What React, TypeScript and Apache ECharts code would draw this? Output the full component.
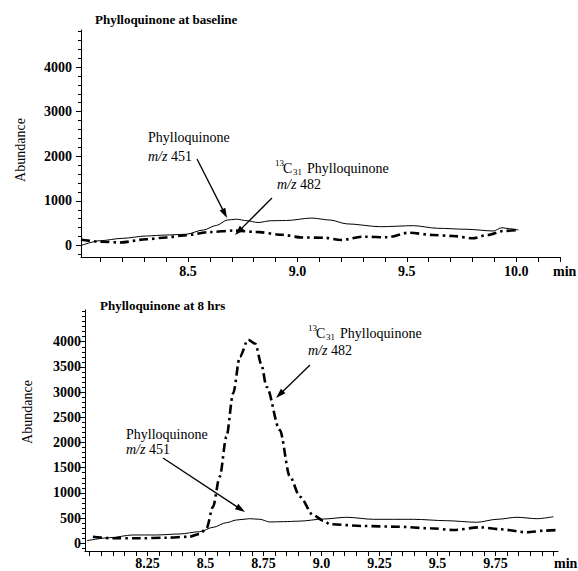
import React, { useEffect, useRef } from "react";
import * as echarts from "echarts";

// ---------- Data: top panel (Phylloquinone at baseline) ----------
const topTime451 = [8.011, 8.1, 8.2, 8.31, 8.4, 8.49, 8.57, 8.63, 8.68, 8.72, 8.77, 8.82, 8.88, 8.95, 9.066, 9.15, 9.226, 9.38, 9.53, 9.64, 9.775, 9.895, 9.935, 9.97, 10.01];
const topAbund451 = [0, 108, 160, 213, 235, 251, 347, 450, 570, 590, 555, 515, 555, 560, 615, 570, 485, 421, 444, 386, 363, 325, 399, 375, 350];
const topTime482 = [8.011, 8.1, 8.19, 8.31, 8.4, 8.48, 8.6, 8.71, 8.81, 8.93, 9.02, 9.12, 9.2, 9.3, 9.41, 9.51, 9.62, 9.71, 9.8, 9.87, 9.94, 10.01];
const topAbund482 = [130, 85, 68, 140, 180, 225, 300, 335, 305, 240, 180, 175, 123, 197, 184, 287, 235, 213, 161, 235, 325, 348];

// ---------- Data: bottom panel (Phylloquinone at 8 hrs) ----------
const botTime451 = [7.988, 8.086, 8.187, 8.288, 8.388, 8.475, 8.532, 8.59, 8.633, 8.69, 8.734, 8.777, 8.835, 8.907, 9.008, 9.109, 9.224, 9.397, 9.54, 9.67, 9.757, 9.843, 9.93, 10.0];
const botAbund451 = [52, 111, 165, 165, 185, 230, 317, 409, 462, 488, 476, 423, 429, 440, 482, 516, 476, 476, 448, 417, 476, 516, 488, 528];
const botTime482 = [8.014, 8.1, 8.216, 8.33, 8.43, 8.475, 8.504, 8.532, 8.561, 8.59, 8.619, 8.648, 8.683, 8.715, 8.74, 8.763, 8.82, 8.864, 8.907, 8.964, 9.008, 9.037, 9.18, 9.325, 9.47, 9.57, 9.685, 9.77, 9.886, 9.958, 10.02];
const botAbund482 = [131, 99, 99, 111, 131, 185, 298, 726, 1321, 2115, 2976, 3702, 4040, 3960, 3560, 3107, 2250, 1321, 925, 561, 448, 377, 343, 329, 298, 264, 317, 278, 218, 250, 264];

// ---------- Axis tick labels ----------
const topXLabelValues = [8.5, 9.0, 9.5, 10.0];
const topXLabels = ["8.5", "9.0", "9.5", "10.0"];
const topYLabelValues = [0, 1000, 2000, 3000, 4000];
const topYLabels = ["0", "1000", "2000", "3000", "4000"];
const botXLabelValues = [8.25, 8.5, 8.75, 9.0, 9.25, 9.5, 9.75];
const botXLabels = ["8.25", "8.5", "8.75", "9.0", "9.25", "9.5", "9.75"];
const botYLabelValues = [0, 500, 1000, 1500, 2000, 2500, 3000, 3500, 4000];
const botYLabels = ["0", "500", "1000", "1500", "2000", "2500", "3000", "3500", "4000"];

function steps(start: number, end: number, step: number): number[] {
  const out: number[] = [];
  const n = Math.round((end - start) / step);
  for (let i = 0; i <= n; i++) out.push(Math.round((start + i * step) * 1000) / 1000);
  return out;
}
const topXTicks = steps(8.1, 10.2, 0.1);
const topYMinorTicks = steps(-200, 4800, 200);
const botXTicks = steps(8.0, 10.0, 0.05);
const botYMinorTicks = steps(-100, 4600, 100);

const SERIF = '"Liberation Serif", "Times New Roman", serif';

function zip(xs: number[], ys: number[]) {
  return xs.map((x, i) => [x, ys[i]]);
}

function labelFor(values: number[], labels: string[]) {
  return (v: number) => {
    const i = values.findIndex((x) => Math.abs(x - v) < 1e-6);
    return i >= 0 ? labels[i] : "";
  };
}

function arrow(x1: number, y1: number, x2: number, y2: number) {
  const dx = x2 - x1;
  const dy = y2 - y1;
  const len = Math.sqrt(dx * dx + dy * dy);
  const ux = dx / len;
  const uy = dy / len;
  const L = 10;
  const W = 3.2;
  const bx = x2 - ux * L;
  const by = y2 - uy * L;
  return [
    {
      type: "line",
      shape: { x1, y1, x2: bx + ux * 2, y2: by + uy * 2 },
      style: { stroke: "#000", lineWidth: 1.3 },
    },
    {
      type: "polygon",
      shape: {
        points: [
          [x2, y2],
          [bx - uy * W, by + ux * W],
          [bx + uy * W, by - ux * W],
        ],
      },
      style: { fill: "#000" },
    },
  ];
}

function txt(text: string, x: number, y: number, size: number, extra: any = {}) {
  return {
    type: "text",
    x,
    y,
    style: {
      text,
      fontFamily: SERIF,
      fontSize: size,
      fill: "#000",
      textAlign: "left",
      textVerticalAlign: "middle",
      ...extra,
    },
  };
}

function mzText(num: string, x: number, y: number) {
  return {
    type: "text",
    x,
    y,
    style: {
      text: "{i|m/z} " + num,
      fontFamily: SERIF,
      fontSize: 14,
      fill: "#000",
      textAlign: "left",
      textVerticalAlign: "middle",
      rich: { i: { fontStyle: "italic", fontFamily: SERIF, fontSize: 14, fill: "#000" } },
    },
  };
}

function c13Label(x: number, y: number) {
  return [
    txt("13", x, y - 5, 9),
    txt("C", x + 8, y, 14),
    txt("31", x + 18, y + 4, 9),
    txt("Phylloquinone", x + 32, y, 14),
  ];
}

export default function App() {
  const ref = useRef<HTMLDivElement>(null);

  useEffect(() => {
    if (!ref.current) return;
    const chart = echarts.init(ref.current, undefined, { renderer: "svg" });

    const tickLabelStyle = {
      color: "#000",
      fontFamily: SERIF,
      fontSize: 14,
      fontWeight: "bold" as const,
    };

    const xAxisBase = (gridIndex: number, min: number, max: number, ticks: number[], lv: number[], ll: string[], margin: number) => ({
      type: "value",
      gridIndex,
      min,
      max,
      axisLine: { show: true, onZero: false, lineStyle: { color: "#000", width: 1 } },
      axisTick: { show: true, customValues: ticks, length: 5, lineStyle: { color: "#000", width: 1 } },
      axisLabel: { show: true, customValues: lv, formatter: labelFor(lv, ll), margin, ...tickLabelStyle },
      splitLine: { show: false },
    });

    const yMajor = (gridIndex: number, min: number, max: number, lv: number[], ll: string[], margin: number) => ({
      type: "value",
      gridIndex,
      position: "left",
      min,
      max,
      axisLine: { show: true, onZero: false, lineStyle: { color: "#000", width: 1 } },
      axisTick: { show: true, customValues: lv, length: 5, lineStyle: { color: "#000", width: 1 } },
      axisLabel: { show: true, customValues: lv, formatter: labelFor(lv, ll), margin, ...tickLabelStyle },
      splitLine: { show: false },
    });

    const yMinor = (gridIndex: number, min: number, max: number, ticks: number[]) => ({
      type: "value",
      gridIndex,
      position: "left",
      min,
      max,
      axisLine: { show: false, onZero: false },
      axisTick: { show: true, customValues: ticks, length: 3, lineStyle: { color: "#000", width: 1 } },
      axisLabel: { show: false },
      splitLine: { show: false },
    });

    const solid = { color: "#000", width: 1 };
    const dashDot = { color: "#000", width: 2.6, type: [9, 4, 2.5, 4], cap: "butt" };

    const option: any = {
      animation: false,
      backgroundColor: "#fff",
      grid: [
        { left: 81, top: 30, width: 479, height: 227 },
        { left: 85, top: 310, width: 473, height: 241 },
      ],
      xAxis: [
        xAxisBase(0, 8.011, 10.2, topXTicks, topXLabelValues, topXLabels, 7),
        xAxisBase(1, 7.98, 10.02, botXTicks, botXLabelValues, botXLabels, 5),
      ],
      yAxis: [
        yMajor(0, -258, 4830, topYLabelValues, topYLabels, 9),
        yMinor(0, -258, 4830, topYMinorTicks),
        yMajor(1, -153, 4630, botYLabelValues, botYLabels, 4),
        yMinor(1, -153, 4630, botYMinorTicks),
      ],
      series: [
        {
          type: "line", xAxisIndex: 0, yAxisIndex: 0, data: zip(topTime451, topAbund451),
          showSymbol: false, smooth: 0.3, smoothMonotone: "x", lineStyle: solid, silent: true,
        },
        {
          type: "line", xAxisIndex: 0, yAxisIndex: 0, data: zip(topTime482, topAbund482),
          showSymbol: false, smooth: 0.3, smoothMonotone: "x", lineStyle: dashDot, silent: true,
        },
        {
          type: "line", xAxisIndex: 1, yAxisIndex: 2, data: zip(botTime451, botAbund451),
          showSymbol: false, smooth: 0.3, smoothMonotone: "x", lineStyle: solid, silent: true,
        },
        {
          type: "line", xAxisIndex: 1, yAxisIndex: 2, data: zip(botTime482, botAbund482),
          showSymbol: false, smooth: 0.3, smoothMonotone: "x", lineStyle: dashDot, silent: true,
        },
      ],
      graphic: [
        txt("Phylloquinone at baseline", 95, 19, 13, { fontWeight: "bold" }),
        txt("Phylloquinone at 8 hrs", 100, 305, 13, { fontWeight: "bold" }),
        {
          type: "text", x: 20, y: 150, rotation: Math.PI / 2,
          style: { text: "Abundance", fontFamily: SERIF, fontSize: 14, fill: "#000", textAlign: "center", textVerticalAlign: "middle" },
        },
        {
          type: "text", x: 27, y: 412, rotation: Math.PI / 2,
          style: { text: "Abundance", fontFamily: SERIF, fontSize: 14, fill: "#000", textAlign: "center", textVerticalAlign: "middle" },
        },
        txt("min", 553, 271, 14, { fontWeight: "bold" }),
        txt("min", 554, 563, 14, { fontWeight: "bold" }),
        // top annotations
        txt("Phylloquinone", 148, 137, 14),
        mzText("451", 148, 156),
        ...c13Label(275, 168),
        mzText("482", 277, 184),
        ...arrow(197, 159, 227, 218),
        ...arrow(272, 198, 235, 235),
        // bottom annotations
        ...c13Label(308, 333),
        mzText("482", 308, 350),
        txt("Phylloquinone", 126, 434, 14),
        mzText("451", 126, 449),
        ...arrow(310, 365, 276, 398),
        ...arrow(163, 458, 245, 512),
      ],
    };

    chart.setOption(option);
    return () => chart.dispose();
  }, []);

  return <div ref={ref} style={{ position: "absolute", left: 0, top: 0, width: 578, height: 571 }} />;
}
